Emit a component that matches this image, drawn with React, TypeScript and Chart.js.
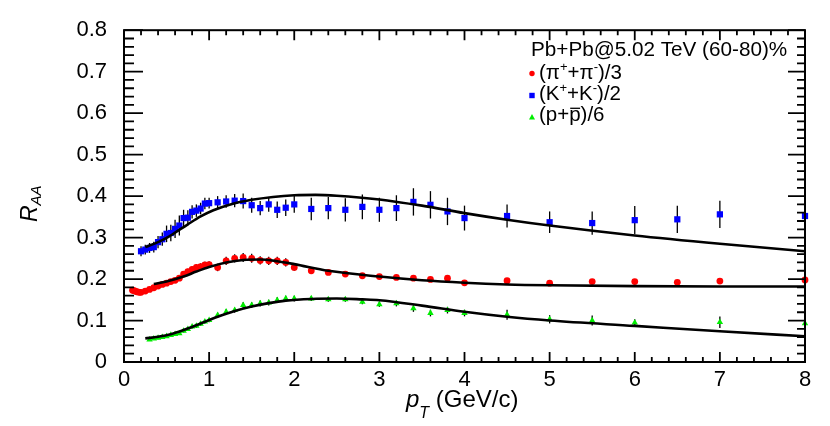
import React, { useEffect, useRef } from "react";
import { Chart, registerables } from "chart.js";

Chart.register(...registerables);

// ---------- data ----------
const pionPt = [0.1, 0.12, 0.14, 0.16, 0.18, 0.2, 0.25, 0.3, 0.35, 0.4, 0.45, 0.5, 0.55, 0.6, 0.65, 0.7, 0.75, 0.8, 0.85, 0.9, 0.95, 1.0, 1.1, 1.2, 1.3, 1.4, 1.5, 1.6, 1.7, 1.8, 1.9, 2.0, 2.2, 2.4, 2.6, 2.8, 3.0, 3.2, 3.4, 3.6, 3.8, 4.0, 4.5, 5.0, 5.5, 6.0, 6.5, 7.0, 8.0];
const pionRaa = [0.173, 0.172, 0.170, 0.169, 0.168, 0.168, 0.171, 0.175, 0.179, 0.183, 0.187, 0.190, 0.194, 0.197, 0.202, 0.212, 0.218, 0.223, 0.228, 0.230, 0.234, 0.235, 0.228, 0.244, 0.250, 0.252, 0.250, 0.245, 0.244, 0.244, 0.240, 0.228, 0.220, 0.216, 0.212, 0.208, 0.206, 0.204, 0.202, 0.199, 0.202, 0.191, 0.196, 0.190, 0.194, 0.194, 0.192, 0.195, 0.198];
const pionErr = [0.004, 0.004, 0.004, 0.004, 0.004, 0.004, 0.004, 0.004, 0.005, 0.005, 0.005, 0.005, 0.006, 0.006, 0.006, 0.007, 0.007, 0.007, 0.008, 0.008, 0.008, 0.008, 0.009, 0.010, 0.010, 0.011, 0.011, 0.010, 0.010, 0.010, 0.010, 0.008, 0.006, 0.006, 0.005, 0.005, 0.005, 0.005, 0.005, 0.005, 0.006, 0.005, 0.005, 0.005, 0.005, 0.005, 0.005, 0.006, 0.0];

const kaonPt = [0.2, 0.25, 0.3, 0.35, 0.4, 0.45, 0.5, 0.55, 0.6, 0.65, 0.7, 0.75, 0.8, 0.85, 0.9, 0.95, 1.0, 1.1, 1.2, 1.3, 1.4, 1.5, 1.6, 1.7, 1.8, 1.9, 2.0, 2.2, 2.4, 2.6, 2.8, 3.0, 3.2, 3.4, 3.6, 3.8, 4.0, 4.5, 5.0, 5.5, 6.0, 6.5, 7.0, 8.0];
const kaonRaa = [0.267, 0.271, 0.275, 0.277, 0.289, 0.296, 0.309, 0.311, 0.321, 0.329, 0.347, 0.348, 0.362, 0.365, 0.370, 0.382, 0.383, 0.385, 0.387, 0.389, 0.388, 0.378, 0.371, 0.380, 0.367, 0.372, 0.380, 0.369, 0.371, 0.367, 0.374, 0.367, 0.371, 0.386, 0.379, 0.363, 0.347, 0.352, 0.337, 0.335, 0.342, 0.344, 0.356, 0.352];
const kaonErr = [0.012, 0.012, 0.012, 0.013, 0.015, 0.016, 0.020, 0.020, 0.022, 0.024, 0.020, 0.018, 0.016, 0.015, 0.014, 0.014, 0.013, 0.015, 0.015, 0.016, 0.018, 0.018, 0.017, 0.018, 0.020, 0.020, 0.020, 0.027, 0.027, 0.028, 0.030, 0.029, 0.031, 0.033, 0.033, 0.033, 0.030, 0.028, 0.026, 0.028, 0.034, 0.033, 0.033, 0.0];

const protonPt = [0.3, 0.35, 0.4, 0.45, 0.5, 0.55, 0.6, 0.65, 0.7, 0.75, 0.8, 0.85, 0.9, 0.95, 1.0, 1.1, 1.2, 1.3, 1.4, 1.5, 1.6, 1.7, 1.8, 1.9, 2.0, 2.2, 2.4, 2.6, 2.8, 3.0, 3.2, 3.4, 3.6, 3.8, 4.0, 4.5, 5.0, 5.5, 6.0, 7.0, 8.0];
const protonRaa = [0.054, 0.056, 0.058, 0.060, 0.062, 0.065, 0.067, 0.069, 0.075, 0.079, 0.085, 0.087, 0.092, 0.097, 0.101, 0.113, 0.121, 0.125, 0.137, 0.137, 0.141, 0.143, 0.149, 0.153, 0.153, 0.153, 0.151, 0.151, 0.145, 0.139, 0.141, 0.129, 0.118, 0.125, 0.118, 0.114, 0.103, 0.100, 0.095, 0.096, 0.093];
const protonErr = [0.003, 0.003, 0.003, 0.003, 0.003, 0.003, 0.003, 0.003, 0.004, 0.004, 0.004, 0.005, 0.005, 0.005, 0.005, 0.006, 0.006, 0.006, 0.007, 0.007, 0.007, 0.007, 0.007, 0.007, 0.007, 0.006, 0.006, 0.006, 0.006, 0.006, 0.007, 0.008, 0.008, 0.008, 0.008, 0.012, 0.010, 0.012, 0.008, 0.014, 0.0];

const kaonCurvePt = [0.25, 0.4, 0.5, 0.6, 0.75, 0.9, 1.05, 1.25, 1.5, 1.75, 2.0, 2.25, 2.5, 3.0, 3.5, 4.0, 4.5, 5.0, 6.0, 7.0, 8.0];
const kaonCurveRaa = [0.277, 0.289, 0.299, 0.312, 0.332, 0.351, 0.366, 0.380, 0.391, 0.398, 0.402, 0.403, 0.401, 0.392, 0.377, 0.359, 0.343, 0.329, 0.305, 0.285, 0.267];

const pionCurvePt = [0.35, 0.5, 0.7, 0.85, 1.0, 1.2, 1.4, 1.6, 1.8, 2.0, 2.4, 3.0, 3.5, 4.0, 4.5, 5.0, 6.0, 7.0, 8.0];
const pionCurveRaa = [0.188, 0.194, 0.206, 0.218, 0.229, 0.240, 0.246, 0.247, 0.243, 0.236, 0.220, 0.206, 0.197, 0.191, 0.187, 0.185, 0.183, 0.182, 0.182];

const protonCurvePt = [0.25, 0.4, 0.55, 0.7, 0.9, 1.1, 1.3, 1.5, 1.7, 1.9, 2.2, 2.5, 2.8, 3.0, 3.5, 4.0, 4.5, 5.0, 6.0, 7.0, 8.0];
const protonCurveRaa = [0.057, 0.061, 0.067, 0.077, 0.093, 0.109, 0.123, 0.134, 0.142, 0.148, 0.152, 0.153, 0.151, 0.149, 0.136, 0.121, 0.109, 0.100, 0.087, 0.074, 0.062];

const xTickLabels = ["0", "1", "2", "3", "4", "5", "6", "7", "8"];
const yTickLabels = ["0", "0.1", "0.2", "0.3", "0.4", "0.5", "0.6", "0.7", "0.8"];

const legendTitle = "Pb+Pb@5.02 TeV (60-80)%";

const FONT = "'Liberation Sans', Arial, Helvetica, sans-serif";
const RED = "#ff0000";
const BLUE = "#0000ff";
const GREEN = "#00ee00";

const pts = (xs: number[], ys: number[]) => xs.map((x, i) => ({ x, y: ys[i] }));

type Part = { t: string; size: number; dy?: number; italic?: boolean; over?: boolean };

function drawRich(ctx: CanvasRenderingContext2D, parts: Part[], x: number, y: number) {
  let cx = x;
  for (const p of parts) {
    ctx.font = `${p.italic ? "italic " : ""}${p.size}px ${FONT}`;
    const w = ctx.measureText(p.t).width;
    ctx.fillText(p.t, cx, y + (p.dy || 0));
    if (p.over) {
      ctx.save();
      ctx.lineWidth = 1.3;
      ctx.strokeStyle = "#000";
      ctx.beginPath();
      const oy = y + (p.dy || 0) - p.size * 0.62;
      ctx.moveTo(cx + 1, oy);
      ctx.lineTo(cx + w - 0.5, oy);
      ctx.stroke();
      ctx.restore();
    }
    cx += w;
  }
}

const errorPlugin = {
  id: "errbars",
  beforeDatasetsDraw(chart: any) {
    const ctx = chart.ctx;
    const xs = chart.scales.x;
    const ys = chart.scales.y;
    const sets: [number[], number[], number[]][] = [
      [pionPt, pionRaa, pionErr],
      [kaonPt, kaonRaa, kaonErr],
      [protonPt, protonRaa, protonErr],
    ];
    ctx.save();
    ctx.strokeStyle = "#000";
    ctx.lineWidth = 1.3;
    for (const [px, py, pe] of sets) {
      px.forEach((x, i) => {
        if (!pe[i]) return;
        const X = xs.getPixelForValue(x);
        ctx.beginPath();
        ctx.moveTo(X, ys.getPixelForValue(py[i] - pe[i]));
        ctx.lineTo(X, ys.getPixelForValue(py[i] + pe[i]));
        ctx.stroke();
      });
    }
    ctx.restore();
  },
};

const framePlugin = {
  id: "frame",
  afterDraw(chart: any) {
    const ctx: CanvasRenderingContext2D = chart.ctx;
    const xs = chart.scales.x;
    const ys = chart.scales.y;
    const { left, right, top, bottom } = chart.chartArea;
    ctx.save();
    ctx.strokeStyle = "#000";
    ctx.lineWidth = 2;
    ctx.strokeRect(left, top, right - left, bottom - top);
    ctx.lineWidth = 1.8;
    ctx.beginPath();
    for (let k = 0; k <= 40; k++) {
      const v = k * 0.2;
      const X = xs.getPixelForValue(v);
      const major = k % 5 === 0;
      const len = major ? 10 : 5;
      ctx.moveTo(X, bottom);
      ctx.lineTo(X, bottom - len);
      ctx.moveTo(X, top);
      ctx.lineTo(X, top + len);
    }
    for (let k = 0; k <= 40; k++) {
      const v = k * 0.02;
      const Y = ys.getPixelForValue(v);
      const major = k % 5 === 0;
      ctx.moveTo(left, Y);
      ctx.lineTo(left + (major ? 19 : 10), Y);
      ctx.moveTo(right, Y);
      ctx.lineTo(right - (major ? 17 : 8), Y);
    }
    ctx.stroke();

    // legend
    ctx.fillStyle = "#000";
    ctx.textBaseline = "alphabetic";
    ctx.textAlign = "left";
    ctx.font = `20.7px ${FONT}`;
    ctx.fillText(legendTitle, 531, 56);

    const mx = 532;
    ctx.fillStyle = RED;
    ctx.beginPath();
    ctx.arc(mx, 73.5, 2.7, 0, Math.PI * 2);
    ctx.fill();
    ctx.fillStyle = BLUE;
    ctx.fillRect(mx - 2.7, 95.5 - 2.7, 5.4, 5.4);
    ctx.fillStyle = GREEN;
    ctx.beginPath();
    ctx.moveTo(mx, 114);
    ctx.lineTo(mx + 3, 119.5);
    ctx.lineTo(mx - 3, 119.5);
    ctx.closePath();
    ctx.fill();

    ctx.fillStyle = "#000";
    const tx = 539;
    const fs = 20.5;
    const ss = 13;
    drawRich(ctx, [
      { t: "(π", size: fs },
      { t: "+", size: ss, dy: -8 },
      { t: "+π", size: fs },
      { t: "-", size: ss, dy: -8 },
      { t: ")/3", size: fs },
    ], tx, 78.5);
    drawRich(ctx, [
      { t: "(K", size: fs },
      { t: "+", size: ss, dy: -8 },
      { t: "+K", size: fs },
      { t: "-", size: ss, dy: -8 },
      { t: ")/2", size: fs },
    ], tx, 100);
    drawRich(ctx, [
      { t: "(p+", size: fs },
      { t: "p", size: fs, over: true },
      { t: ")/6", size: fs },
    ], tx, 121);

    // x title
    drawRich(ctx, [
      { t: "p", size: 24, italic: true },
      { t: "T", size: 16, italic: true, dy: 11 },
      { t: " (GeV/c)", size: 24 },
    ], 406, 407);

    // y title
    ctx.save();
    ctx.translate(37, 222);
    ctx.rotate(-Math.PI / 2);
    drawRich(ctx, [
      { t: "R", size: 23, italic: true },
      { t: "AA", size: 15, italic: true, dy: 4 },
    ], 0, 0);
    ctx.restore();
    ctx.restore();
  },
};

export default function App() {
  const ref = useRef<HTMLCanvasElement | null>(null);
  useEffect(() => {
    document.body.style.margin = "0";
    if (!ref.current) return;
    const curve = (xs: number[], ys: number[]) => ({
      data: pts(xs, ys),
      showLine: true,
      borderColor: "#000",
      borderWidth: 2.6,
      pointRadius: 0,
      cubicInterpolationMode: "monotone" as const,
      fill: false,
      clip: false as any,
    });
    const chart = new Chart(ref.current, {
      type: "scatter",
      data: {
        datasets: [
          curve(pionCurvePt, pionCurveRaa),
          curve(kaonCurvePt, kaonCurveRaa),
          curve(protonCurvePt, protonCurveRaa),
          {
            data: pts(pionPt, pionRaa),
            pointStyle: "circle",
            pointRadius: 3.4,
            backgroundColor: RED,
            borderColor: RED,
            borderWidth: 0,
            clip: false as any,
          },
          {
            data: pts(kaonPt, kaonRaa),
            pointStyle: "rect",
            pointRadius: 4.4,
            backgroundColor: BLUE,
            borderColor: BLUE,
            borderWidth: 0,
            clip: false as any,
          },
          {
            data: pts(protonPt, protonRaa),
            pointStyle: "triangle",
            pointRadius: 3.7,
            backgroundColor: GREEN,
            borderColor: GREEN,
            borderWidth: 0,
            clip: false as any,
          },
        ],
      },
      options: {
        animation: false,
        responsive: false,
        devicePixelRatio: 1,
        layout: { padding: { top: 24, right: 25, left: 0, bottom: 0 } },
        plugins: { legend: { display: false }, tooltip: { enabled: false } },
        scales: {
          x: {
            type: "linear",
            min: 0,
            max: 8,
            grid: { display: false, drawTicks: false },
            border: { display: false },
            ticks: {
              stepSize: 1,
              padding: 5,
              color: "#000",
              font: { size: 22, family: FONT },
              callback: (v: any) => xTickLabels[Math.round(Number(v))] ?? "",
            },
            afterFit: (s: any) => { s.height = 64; },
          },
          y: {
            type: "linear",
            min: 0,
            max: 0.8,
            grid: { display: false, drawTicks: false },
            border: { display: false },
            ticks: {
              stepSize: 0.1,
              padding: 17,
              color: "#000",
              font: { size: 22, family: FONT },
              callback: (v: any) => yTickLabels[Math.round(Number(v) * 10)] ?? "",
            },
            afterFit: (s: any) => { s.width = 124; },
          },
        },
      },
      plugins: [errorPlugin, framePlugin],
    });
    return () => chart.destroy();
  }, []);
  return (
    <div style={{ width: 830, height: 426, background: "#fff" }}>
      <canvas ref={ref} width={830} height={426} style={{ display: "block" }} />
    </div>
  );
}
